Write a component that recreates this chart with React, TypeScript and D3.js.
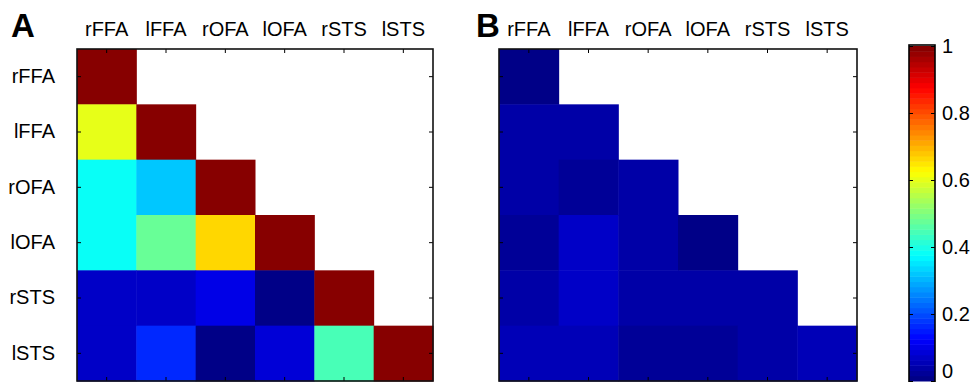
import React, { useEffect, useRef } from "react";
import * as d3 from "d3";

const regions = ["rFFA", "lFFA", "rOFA", "lOFA", "rSTS", "lSTS"];

// lower triangle only, upper triangle is left empty (white)
const corrA = [
  [1],
  [0.595, 1],
  [0.38, 0.325, 1],
  [0.39, 0.47, 0.67, 1],
  [0.07, 0.065, 0.1, 0.01, 1],
  [0.065, 0.17, 0.01, 0.08, 0.44, 1],
];

const corrB = [
  [0.0],
  [0.04, 0.04],
  [0.04, 0.03, 0.045],
  [0.03, 0.065, 0.035, 0.01],
  [0.04, 0.065, 0.045, 0.045, 0.04],
  [0.06, 0.06, 0.03, 0.03, 0.04, 0.055],
];

const colorbarTicks = [0, 0.2, 0.4, 0.6, 0.8, 1];
const panelLetters = ["A", "B"];

const FONT = "'Liberation Sans', Arial, Helvetica, sans-serif";

// matlab jet(64)
const jet = (v: number) => {
  const k = Math.max(0, Math.min(63, Math.floor(v * 64)));
  const t = (k + 0.5) / 64;
  const c = (x: number) => Math.max(0, Math.min(1, x));
  const r = c(1.5 - Math.abs(4 * t - 3));
  const g = c(1.5 - Math.abs(4 * t - 2));
  const b = c(1.5 - Math.abs(4 * t - 1));
  return d3.rgb(r * 255, g * 255, b * 255).formatHex();
};

const drawPanel = (svg: any, data: number[][], left: number, top: number, w: number, h: number, rowLabels: boolean) => {
  const x = d3.scaleBand().domain(regions).range([0, w]);
  const y = d3.scaleBand().domain(regions).range([0, h]);
  const g = svg.append("g").attr("transform", `translate(${left},${top})`);

  data.forEach((row, i) => {
    g.selectAll(null)
      .data(row)
      .enter()
      .append("rect")
      .attr("x", (d: number, j: number) => x(regions[j]))
      .attr("y", y(regions[i]))
      .attr("width", x.bandwidth() + 0.5)
      .attr("height", y.bandwidth() + 0.5)
      .attr("fill", (d: number) => jet(d));
  });

  const top_ = g.append("g").call(d3.axisTop(x).tickSize(-4).tickPadding(13));
  const bottom = g.append("g").attr("transform", `translate(0,${h})`).call(d3.axisBottom(x).tickSize(-4).tickFormat(() => ""));
  const leftAx = g.append("g").call(d3.axisLeft(y).tickSize(-4).tickPadding(22).tickFormat(rowLabels ? (d: string) => d : () => ""));
  const rightAx = g.append("g").attr("transform", `translate(${w},0)`).call(d3.axisRight(y).tickSize(-4).tickFormat(() => ""));

  [top_, bottom, leftAx, rightAx].forEach((a: any) => {
    a.select(".domain").remove();
    a.selectAll("line").attr("stroke", "#000").attr("stroke-width", 1);
    a.selectAll("text").attr("font-family", FONT).attr("font-size", 20).attr("fill", "#000");
  });

  g.append("rect")
    .attr("x", 0)
    .attr("y", 0)
    .attr("width", w)
    .attr("height", h)
    .attr("fill", "none")
    .attr("stroke", "#111")
    .attr("stroke-width", 1.6);
};

const App = () => {
  const ref = useRef<SVGSVGElement>(null);

  useEffect(() => {
    const svg = d3.select(ref.current);
    svg.selectAll("*").remove();

    drawPanel(svg, corrA, 77, 49, 356, 332, true);
    drawPanel(svg, corrB, 499, 49, 358, 332, false);

    svg.selectAll("text.letter")
      .data(panelLetters)
      .enter()
      .append("text")
      .attr("class", "letter")
      .attr("x", (d, i) => (i === 0 ? 11 : 476))
      .attr("y", 37)
      .attr("font-family", FONT)
      .attr("font-weight", "bold")
      .attr("font-size", 33)
      .text(d => d);

    // colorbar
    const cb = d3.scaleLinear().domain([0, 1]).range([381, 46]);
    const cbX = 909;
    const cbW = 26;
    const steps = d3.range(64);
    const cbg = svg.append("g");
    cbg.selectAll("rect.band")
      .data(steps)
      .enter()
      .append("rect")
      .attr("class", "band")
      .attr("x", cbX)
      .attr("y", d => cb((d + 1) / 64))
      .attr("width", cbW)
      .attr("height", d => cb(d / 64) - cb((d + 1) / 64) + 0.5)
      .attr("fill", d => jet((d + 0.5) / 64));

    const axR = cbg.append("g").attr("transform", `translate(${cbX + cbW},0)`).call(d3.axisRight(cb).tickValues(colorbarTicks).tickSize(-4).tickPadding(7).tickFormat(d3.format("")));
    const axL = cbg.append("g").attr("transform", `translate(${cbX},0)`).call(d3.axisLeft(cb).tickValues(colorbarTicks).tickSize(-4).tickFormat(() => ""));
    [axR, axL].forEach(a => {
      a.select(".domain").remove();
      a.selectAll("line").attr("stroke", "#000");
      a.selectAll("text").attr("font-family", FONT).attr("font-size", 20).attr("fill", "#000");
    });
    // keep the bottom "0" inside the picture
    axR.selectAll("text").filter((d: any) => d === 0).attr("dy", "-0.2em");

    cbg.append("rect")
      .attr("x", cbX)
      .attr("y", 45)
      .attr("width", cbW)
      .attr("height", 340)
      .attr("fill", "none")
      .attr("stroke", "#000")
      .attr("stroke-width", 1.6);
  }, []);

  return (
    <svg
      ref={ref}
      width={970}
      height={382}
      style={{ position: "absolute", left: 0, top: 0, background: "#fff" }}
    />
  );
};

export default App;
